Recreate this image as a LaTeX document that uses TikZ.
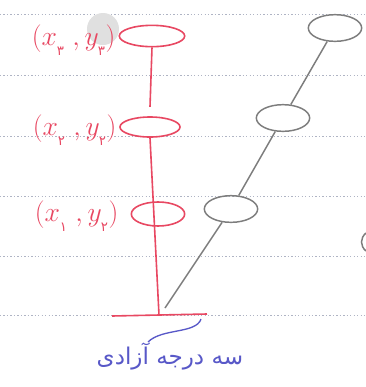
\documentclass[tikz,border=0pt]{standalone}
\usepackage{fontspec}
\newfontfamily\farsi[Script=Arabic]{DejaVu Sans}
\TeXXeTstate=1
\usetikzlibrary{shapes.geometric}
\definecolor{redink}{RGB}{232,72,98}
\definecolor{grayink}{RGB}{125,125,125}
\definecolor{blueink}{RGB}{88,88,200}
\definecolor{ruled}{RGB}{175,180,196}
\newcommand{\fa}[1]{\raisebox{-4pt}{\farsi\normalsize #1}}

\begin{document}
\begin{tikzpicture}[x=0.75pt,y=-0.75pt,
	redpen/.style={draw=redink, line width=1.2pt},
	graypen/.style={draw=grayink, line width=1.1pt},
	rpoint/.style={ellipse, redpen, inner sep=0pt},
	gpoint/.style={ellipse, graypen, inner sep=0pt, minimum width=40pt, minimum height=20pt},
	lbl/.style={text=redink, font=\huge, anchor=east, inner sep=1pt}]
	\useasboundingbox[fill=white] (0,0) rectangle (366,387);
	
	% ruled paper
	\foreach \y in {14,75,136,196,256,315}
		\draw [ruled, dash pattern=on 1pt off 1.6pt] (0,\y) -- (366,\y);
	\fill [black!12] (103,29) circle (16);
	
	% red points
	\node [rpoint, minimum width=49pt, minimum height=16pt] (r3) at (152,36) {};
	\node [rpoint, minimum width=45pt, minimum height=15pt] (r2) at (150,127) {};
	\node [rpoint, minimum width=40pt, minimum height=18pt] (r1) at (158,214) {};
	
	\node [lbl] (l3) at (117,40) {$(x_{\fa{۳}}\;,y_{\fa{۳}})$};
	\node [lbl] (l2) at (118,130) {$(x_{\fa{۲}}\;,y_{\fa{۲}})$};
	\node [lbl] (l1) at (120,216) {$(x_{\fa{۱}}\;,y_{\fa{۲}})$};
	
	\coordinate (baseL) at (112,316);
	\coordinate (baseR) at (207,314);
	\coordinate (base) at (159,315);
	\draw [redpen] (r3.south) -- ([yshift=7pt]r2.north);
	\draw [redpen] (r2.south) -- (base);
	\draw [redpen] (baseL) -- (baseR);
	
	% gray points
	\node [gpoint] (g1) at (231,209) {};
	\node [gpoint] (g2) at (283,118) {};
	\node [gpoint] (g3) at (335,28) {};
	\coordinate (gstart) at (165,308);
	\draw [graypen] (gstart) -- (g1) -- (g2) -- (g3);
	\draw [graypen] (366,233) .. controls (360,238) and (360,246) .. (366,251);
	
	% degrees of freedom
	\node [text=blueink, font=\LARGE] (dof) at (170,356) {\farsi\beginR سه درجه آزادی\endR};
	\coordinate (madda) at (148,342);
	\draw [blueink, line width=1pt] (201,319) .. controls (196,334) and (162,328) .. (madda);
\end{tikzpicture}
\end{document}
